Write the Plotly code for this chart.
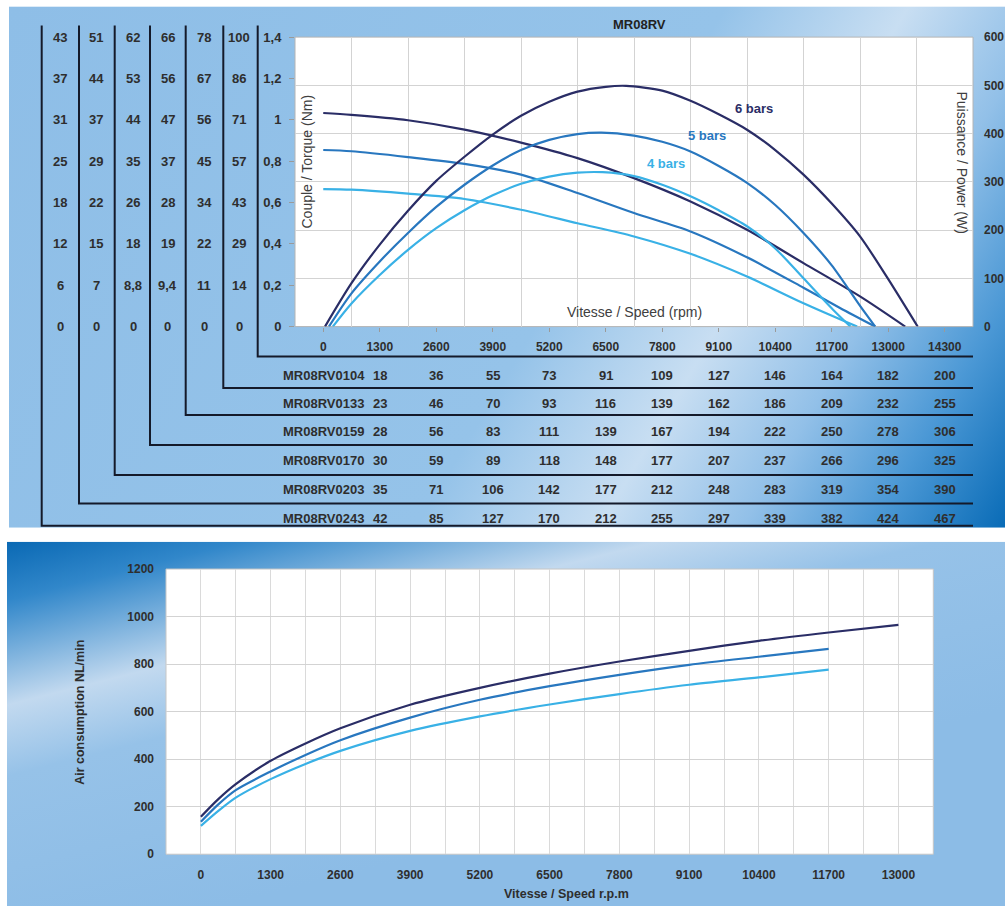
import base64
import plotly.graph_objects as go

# The photographed page shows page-y as 6.6 + 0.983*y, so reference pixel rows are
# mapped back through that; x is shown 1:1 once the body margin is removed.
A_Y, S_Y = 6.6, 0.983
FW = 1005
FH = 915
FONT = "Liberation Sans, Arial, sans-serif"

# ---------------- data: top chart ----------------
top_x_ticks = [0, 1300, 2600, 3900, 5200, 6500, 7800, 9100, 10400, 11700, 13000, 14300]
torque_ticks = [0, 0.2, 0.4, 0.6, 0.8, 1.0, 1.2, 1.4]
torque_ticktext = ["0", "0,2", "0,4", "0,6", "0,8", "1", "1,2", "1,4"]
power_ticks = [0, 100, 200, 300, 400, 500, 600]

torque6_rpm = [0, 650, 1950, 3250, 4550, 5850, 7150, 8450, 9750, 11050, 12350, 13390]
torque6_nm = [1.033, 1.024, 0.998, 0.953, 0.890, 0.815, 0.718, 0.605, 0.468, 0.307, 0.146, 0.0]
torque5_rpm = [0, 650, 1950, 3250, 4550, 5850, 7150, 8450, 9750, 11050, 11890, 12700]
torque5_nm = [0.854, 0.848, 0.820, 0.787, 0.735, 0.646, 0.549, 0.460, 0.335, 0.188, 0.090, 0.0]
torque4_rpm = [0, 650, 1950, 3250, 4550, 5850, 7150, 8450, 9750, 11050, 12285]
torque4_nm = [0.665, 0.662, 0.643, 0.617, 0.565, 0.500, 0.436, 0.352, 0.242, 0.113, 0.0]

power6_rpm = [40, 650, 1300, 1950, 2600, 3250, 3900, 4550, 5200, 5850, 6500, 6970, 7800, 8450,
              9100, 9750, 10400, 11050, 11700, 12350, 12960, 13677]
power6_w = [0, 90, 170, 240, 302, 352, 398, 437, 466, 487, 497, 499, 489, 468,
            440, 408, 366, 315, 255, 187, 104, 0]
power5_rpm = [130, 650, 1300, 1950, 2600, 3250, 3900, 4550, 5200, 5850, 6400, 7150, 7800, 8450,
              9100, 9750, 10400, 11050, 11700, 12360, 12700]
power5_w = [0, 69, 135, 194, 248, 294, 334, 366, 387, 399, 402, 396, 383, 363,
            333, 298, 252, 194, 127, 42, 0]
power4_rpm = [220, 650, 1300, 1950, 2600, 3250, 3900, 4550, 5200, 5850, 6430, 7150, 7800, 8450,
              9100, 9750, 10400, 11050, 11730, 12130]
power4_w = [0, 48, 107, 159, 204, 241, 272, 296, 311, 319, 320, 312, 294, 270,
            241, 208, 162, 100, 35, 0]

# left-hand scale columns (values at each torque tick, bottom to top)
scale_columns = [
    ["0", "6", "12", "18", "25", "31", "37", "43"],
    ["0", "7", "15", "22", "29", "37", "44", "51"],
    ["0", "8,8", "18", "26", "35", "44", "53", "62"],
    ["0", "9,4", "19", "28", "37", "47", "56", "66"],
    ["0", "11", "22", "34", "45", "56", "67", "78"],
    ["0", "14", "29", "43", "57", "71", "86", "100"],
]

# output speed table
table_models = ["MR08RV0104", "MR08RV0133", "MR08RV0159", "MR08RV0170", "MR08RV0203", "MR08RV0243"]
table_values = [
    [18, 36, 55, 73, 91, 109, 127, 146, 164, 182, 200],
    [23, 46, 70, 93, 116, 139, 162, 186, 209, 232, 255],
    [28, 56, 83, 111, 139, 167, 194, 222, 250, 278, 306],
    [30, 59, 89, 118, 148, 177, 207, 237, 266, 296, 325],
    [35, 71, 106, 142, 177, 212, 248, 283, 319, 354, 390],
    [42, 85, 127, 170, 212, 255, 297, 339, 382, 424, 467],
]

series_labels = ["6 bars", "5 bars", "4 bars"]

# ---------------- data: bottom chart ----------------
bottom_x_ticks = [0, 1300, 2600, 3900, 5200, 6500, 7800, 9100, 10400, 11700, 13000]
air_ticks = [0, 200, 400, 600, 800, 1000, 1200]
air6_rpm = [0, 325, 650, 1300, 1950, 2600, 3900, 5200, 6500, 7800, 9100, 10400, 11700, 13000]
air6 = [158, 232, 295, 393, 466, 530, 629, 700, 760, 811, 856, 898, 933, 965]
air5_rpm = [0, 325, 650, 1300, 1950, 2600, 3900, 5200, 6500, 7800, 9100, 10400, 11700]
air5 = [137, 210, 270, 348, 418, 480, 575, 650, 707, 755, 797, 831, 864]
air4_rpm = [0, 325, 650, 1300, 1950, 2600, 3900, 5200, 6500, 7800, 9100, 10400, 11700]
air4 = [119, 182, 238, 316, 380, 435, 519, 580, 630, 674, 713, 744, 777]

# ---------------- styling ----------------
C6, C5, C4 = "#2a2d66", "#2877bf", "#39b1e6"
TXT = "#2e2e2e"


def px(x):
    """reference pixel x -> paper x"""
    return x / FW


def py(y):
    """reference pixel y -> paper y"""
    return 1 - ((y - A_Y) / S_Y) / FH


def hy(h):
    """reference pixel height -> paper height"""
    return (h / S_Y) / FH


# plot area pixel boxes (reference pixels)
T_L, T_R, T_T, T_B = 295, 973, 36.7, 326
B_L, B_R, B_T, B_B = 166, 933.3, 568.3, 853.3


def svg_uri(w, h, grad):
    svg = (
        f'<svg xmlns="http://www.w3.org/2000/svg" width="{w}" height="{h}" '
        f'viewBox="0 0 {w} {h}" preserveAspectRatio="none">'
        f'<defs>{grad}</defs><rect x="0" y="0" width="{w}" height="{h}" fill="url(#g)"/></svg>'
    )
    return "data:image/svg+xml;base64," + base64.b64encode(svg.encode()).decode()


top_grad = (
    '<linearGradient id="g" gradientUnits="userSpaceOnUse" x1="0" y1="0" x2="963" y2="573">'
    '<stop offset="0" stop-color="#8ebee7"/>'
    '<stop offset="0.55" stop-color="#95c3e9"/>'
    '<stop offset="0.69" stop-color="#c8def2"/>'
    '<stop offset="0.80" stop-color="#92c0e8"/>'
    '<stop offset="0.90" stop-color="#4b98d5"/>'
    '<stop offset="1" stop-color="#0a6cb7"/>'
    '</linearGradient>'
)
bot_grad = (
    '<linearGradient id="g" gradientUnits="userSpaceOnUse" x1="0" y1="0" x2="96" y2="388">'
    '<stop offset="0" stop-color="#0a69b4"/>'
    '<stop offset="0.14" stop-color="#3187ca"/>'
    '<stop offset="0.39" stop-color="#c2d9ef"/>'
    '<stop offset="0.56" stop-color="#96c2e8"/>'
    '<stop offset="1" stop-color="#8cbce6"/>'
    '</linearGradient>'
)

fig = go.Figure()


def line(xs, ys, color, xa, ya):
    fig.add_trace(go.Scatter(
        x=xs, y=ys, mode="lines", xaxis=xa, yaxis=ya,
        line=dict(color=color, width=2.2, shape="spline", smoothing=0.8),
        hoverinfo="skip", showlegend=False))


line(torque6_rpm, torque6_nm, C6, "x", "y")
line(torque5_rpm, torque5_nm, C5, "x", "y")
line(torque4_rpm, torque4_nm, C4, "x", "y")
line(power6_rpm, power6_w, C6, "x", "y2")
line(power5_rpm, power5_w, C5, "x", "y2")
line(power4_rpm, power4_w, C4, "x", "y2")
line(air6_rpm, air6, C6, "x2", "y3")
line(air5_rpm, air5, C5, "x2", "y3")
line(air4_rpm, air4, C4, "x2", "y3")

bold12 = dict(family=FONT, size=12, color=TXT, weight="bold")
bold13 = dict(family=FONT, size=13, color=TXT, weight="bold")

fig.update_layout(
    width=FW, height=FH,
    margin=dict(l=0, r=0, t=0, b=0, pad=0),
    paper_bgcolor="white", plot_bgcolor="rgba(0,0,0,0)",
    showlegend=False,
    font=dict(family=FONT),
    xaxis=dict(
        domain=[px(T_L), px(T_R)], anchor="y", range=[-650, 14950],
        tickmode="array", tickvals=top_x_ticks, ticktext=[str(v) for v in top_x_ticks],
        tickfont=bold12, ticks="outside", ticklen=4, tickcolor="#9a9a9a",
        ticklabelstandoff=5,
        showgrid=False, zeroline=False, showline=False,
        minor=dict(tickmode="linear", tick0=650, dtick=1300, showgrid=True,
                   gridcolor="#d3d3d3", gridwidth=1, ticks=""),
    ),
    yaxis=dict(
        domain=[py(T_B), py(T_T)], anchor="x", range=[0, 1.4],
        tickmode="array", tickvals=torque_ticks, ticktext=torque_ticktext,
        tickfont=bold13, ticks="outside", ticklen=5, tickcolor="#9a9a9a",
        ticklabelstandoff=5,
        showgrid=False, zeroline=False, showline=False,
    ),
    yaxis2=dict(
        overlaying="y", side="right", anchor="x", range=[0, 600],
        tickmode="array", tickvals=power_ticks, ticktext=[str(v) for v in power_ticks],
        tickfont=bold12, ticks="", ticklabelstandoff=10,
        showgrid=True, gridcolor="#d3d3d3", gridwidth=1,
        zeroline=False, showline=False,
    ),
    xaxis2=dict(
        domain=[px(B_L), px(B_R)], anchor="y3", range=[-650, 13650],
        tickmode="array", tickvals=bottom_x_ticks, ticktext=[str(v) for v in bottom_x_ticks],
        tickfont=bold12, ticks="", ticklabelstandoff=12,
        showgrid=True, gridcolor="#dadada", gridwidth=1,
        zeroline=False, showline=False,
        minor=dict(tickmode="linear", tick0=650, dtick=1300, showgrid=True,
                   gridcolor="#dadada", gridwidth=1, ticks=""),
    ),
    yaxis3=dict(
        domain=[py(B_B), py(B_T)], anchor="x2", range=[0, 1200],
        tickmode="array", tickvals=air_ticks, ticktext=[str(v) for v in air_ticks],
        tickfont=bold12, ticks="", ticklabelstandoff=11,
        showgrid=True, gridcolor="#d3d3d3", gridwidth=1,
        zeroline=False, showline=False,
    ),
)

# backgrounds
fig.add_layout_image(dict(
    source=svg_uri(996, 521, top_grad), xref="paper", yref="paper",
    x=px(9), y=py(6), sizex=px(1005 - 9), sizey=hy(527 - 6),
    xanchor="left", yanchor="top", sizing="stretch", layer="below"))
fig.add_layout_image(dict(
    source=svg_uri(998, 365, bot_grad), xref="paper", yref="paper",
    x=px(7), y=py(541), sizex=px(1005 - 7), sizey=hy(912 - 541),
    xanchor="left", yanchor="top", sizing="stretch", layer="below"))

shapes = []
# white plot areas
shapes.append(dict(type="rect", xref="paper", yref="paper", layer="below",
                   x0=px(T_L), x1=px(T_R), y0=py(T_B), y1=py(T_T),
                   fillcolor="white", line=dict(color="#b4b4b4", width=1)))
shapes.append(dict(type="rect", xref="paper", yref="paper", layer="below",
                   x0=px(B_L), x1=px(B_R), y0=py(B_B), y1=py(B_T),
                   fillcolor="white", line=dict(color="#c6c6c6", width=1)))

# column bracket lines (x of vertical line, y of the row line it turns into)
col_line_x = [41.7, 79, 114.7, 150, 185.7, 223.3, 257.7]
col_line_bottom = [525, 502.7, 474.3, 444.3, 414.3, 387.3, 356]
for lx, lb in zip(col_line_x, col_line_bottom):
    path = f"M {px(lx)},{py(25)} L {px(lx)},{py(lb)} L {px(973)},{py(lb)}"
    shapes.append(dict(type="path", xref="paper", yref="paper", path=path,
                       line=dict(color="#141a2a", width=2), layer="above"))
fig.update_layout(shapes=shapes)

ann = []


def text(x, y, s, font, **kw):
    d = dict(x=x, y=y, text=s, showarrow=False, font=font,
             xref=kw.pop("xref", "paper"), yref=kw.pop("yref", "paper"),
             xanchor=kw.pop("xanchor", "center"), yanchor=kw.pop("yanchor", "middle"))
    d.update(kw)
    ann.append(d)


# title and series labels
text(px(639), py(24), "MR08RV", dict(family=FONT, size=13, color="#222", weight="bold"))
label_pos = [(754, 108), (707, 135), (666, 163.5)]
for lab, (lx, ly), c in zip(series_labels, label_pos, [C6, C5, C4]):
    text(px(lx), py(ly), lab, dict(family=FONT, size=13, color=c, weight="bold"))

# axis titles
reg14 = dict(family=FONT, size=14, color="#404040")
text(px(307), py(161), "Couple / Torque (Nm)", reg14, textangle=-90)
text(px(962), py(162), "Puissance / Power (W)", reg14, textangle=90)
text(px(634), py(311), "Vitesse / Speed (rpm)", reg14)
text(px(80), py(712), "Air consumption NL/min", dict(family=FONT, size=12.5, color=TXT, weight="bold"), textangle=-90)
text(px(566), py(893), "Vitesse / Speed r.p.m", dict(family=FONT, size=12.5, color=TXT, weight="bold"))

# scale columns on the left
col_center_x = [60, 96, 133.3, 167.7, 204, 239]
for cx, vals in zip(col_center_x, scale_columns):
    for tv, s in zip(torque_ticks, vals):
        text(px(cx), tv, s, bold13, yref="y")

# table
row_y = [375, 403.3, 431, 460, 489, 517.7]
table_rpm = top_x_ticks[1:]
for ry, model, vals in zip(row_y, table_models, table_values):
    text(px(281), py(ry), model, bold13, xanchor="left")
    for rx, v in zip(table_rpm, vals):
        text(rx, py(ry), str(v), bold13, xref="x")

fig.update_layout(annotations=ann)
fig.write_html(
    "out.html",
    config={"displayModeBar": False},
    post_script=(
        "document.documentElement.style.margin='0';"
        "document.documentElement.style.padding='0';"
        "document.body.style.margin='0';"
        "document.body.style.padding='0';"
    ),
)
